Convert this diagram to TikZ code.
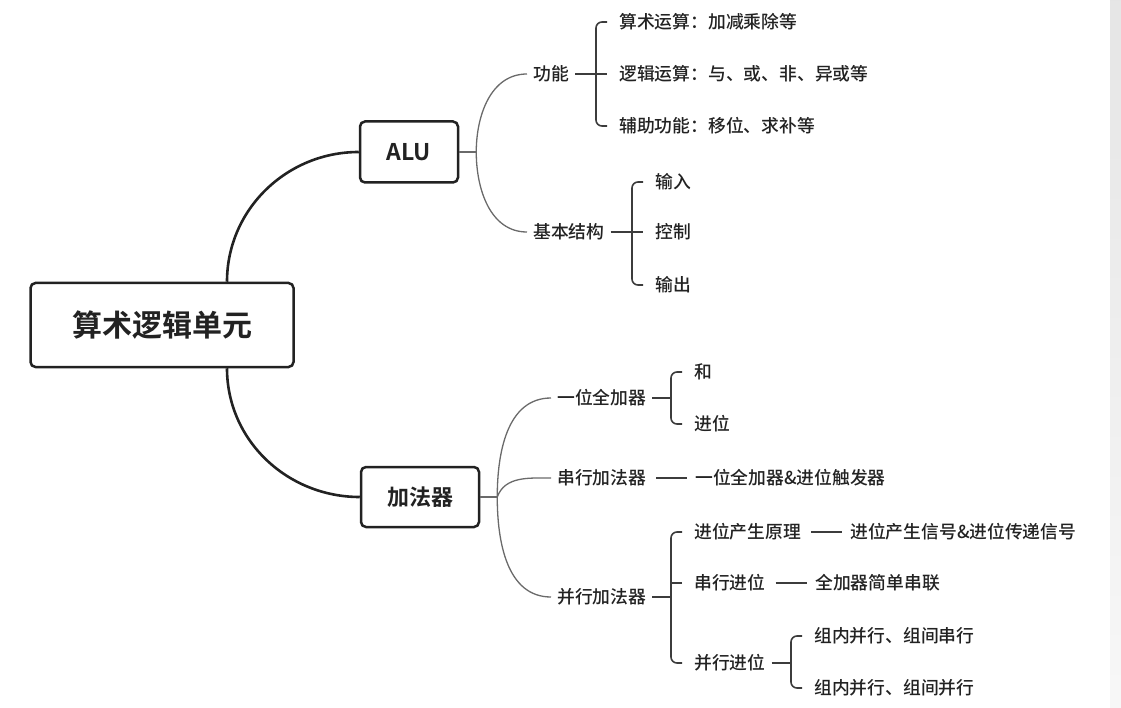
\documentclass[tikz,border=0pt]{standalone}
\usepackage{fontspec}
\setmainfont{Noto Sans CJK SC}[UprightFont=* Medium, BoldFont=* Bold]
\usetikzlibrary{positioning,calc}

\definecolor{ink}{HTML}{222222}
\definecolor{twiggray}{HTML}{6A6A6A}
\definecolor{brkgray}{HTML}{3C3C3C}

\begin{document}
\begin{tikzpicture}[x=1pt, y=-1pt,
    box/.style={draw=ink, line width=2.5pt, rounded corners=5pt, text=ink},
    lbl/.style={anchor=west, inner xsep=6pt, inner ysep=2pt, text=ink,
        font=\fontsize{17.8}{20}\selectfont},
    trunk/.style={draw=ink, line width=2.6pt},
    twig/.style={draw=twiggray, line width=1.3pt},
    brk/.style={draw=brkgray, line width=1.6pt, rounded corners=6pt}]

    %% Background
    \useasboundingbox (0,0) rectangle (1121,708);
    \shade[top color=black!10, bottom color=black!3, draw=none] (1110,0) rectangle (1121,708);

    % Main boxes
    \node[box, minimum width=263pt, minimum height=84pt,
        font=\bfseries\fontsize{30}{34}\selectfont] (root) at (162,325) {算术逻辑单元};
    \node[box, minimum width=98pt, minimum height=61pt,
        font=\bfseries\fontsize{23}{26}\selectfont] (alu) at (409,152) {ALU};
    \node[box, minimum width=118pt, minimum height=60pt,
        font=\bfseries\fontsize{22}{26}\selectfont] (adder) at (420,497) {加法器};

    \draw[trunk] ([xshift=65pt]root.north) to[out=90, in=180] (alu.west);
    \draw[trunk] ([xshift=65pt]root.south) to[out=-90, in=180] (adder.west);

    % ALU branch
    \node[lbl] (func) at (527,74) {功能};
    \node[lbl] (struct) at (527,232) {基本结构};

    \node[lbl] (func1) at (613,22) {算术运算：加减乘除等};
    \node[lbl] (func2) at (613,74) {逻辑运算：与、或、非、异或等};
    \node[lbl] (func3) at (613,126) {辅助功能：移位、求补等};

    \node[lbl] (part1) at (649,182) {输入};
    \node[lbl] (part2) at (649,232) {控制};
    \node[lbl] (part3) at (649,285) {输出};

    \coordinate (alub) at ([xshift=17pt]alu.east);
    \draw[twig] (alu.east) -- (alub);
    \draw[twig] (alub) to[out=90, in=180] (func.west);
    \draw[twig] (alub) to[out=-90, in=180] (struct.west);

    \draw[brk, shorten <=6pt, shorten >=6pt] (func1.west) -- ++(-17,0) |- (func3.west);
    \draw[brk, shorten >=6pt] (func.east) -- (func2.west);
    \draw[brk, shorten <=6pt, shorten >=6pt] (part1.west) -- ++(-17,0) |- (part3.west);
    \draw[brk, shorten >=6pt] (struct.east) -- (part2.west);

    % Adder branch
    \node[lbl] (onebit) at (551,398) {一位全加器};
    \node[lbl] (serial) at (551,478) {串行加法器};
    \node[lbl] (parallel) at (551,597) {并行加法器};

    \node[lbl] (sum) at (688,372) {和};
    \node[lbl] (carry) at (688,424) {进位};
    \node[lbl] (serialc) at (689,478) {一位全加器\&进位触发器};

    \node[lbl] (gen) at (688,532) {进位产生原理};
    \node[lbl] (ripple) at (688,583) {串行进位};
    \node[lbl] (look) at (688,663) {并行进位};

    \node[lbl] (genc) at (844,532) {进位产生信号\&进位传递信号};
    \node[lbl] (ripplec) at (809,583) {全加器简单串联};
    \node[lbl] (look1) at (808,636) {组内并行、组间串行};
    \node[lbl] (look2) at (808,688) {组内并行、组间并行};

    \coordinate (addb) at ([xshift=17pt]adder.east);
    \draw[twig] (adder.east) -- (addb);
    \draw[twig] (addb) to[out=90, in=180] (onebit.west);
    \draw[twig] (addb) to[out=70, in=180] (serial.west);
    \draw[twig] (addb) to[out=-90, in=180] (parallel.west);

    \coordinate (onebx) at ([xshift=-17pt]sum.west);
    \draw[brk, shorten <=6pt, shorten >=6pt] (sum.west) -- (onebx) |- (carry.west);
    \draw[brk] (onebit.east) -- (onebit.east -| onebx);

    \draw[brk, shorten <=4pt, shorten >=2pt] (serial.east) -- (serialc.west);

    \coordinate (parbx) at ([xshift=-17pt]gen.west);
    \draw[brk, shorten <=6pt, shorten >=6pt] (gen.west) -- (parbx) |- (look.west);
    \draw[brk, shorten <=6pt] (ripple.west) -- (ripple.west -| parbx);
    \draw[brk] (parallel.east) -- (parallel.east -| parbx);

    \draw[brk, shorten <=4pt, shorten >=2pt] (gen.east) -- (genc.west);
    \draw[brk, shorten <=4pt, shorten >=2pt] (ripple.east) -- (ripplec.west);

    \coordinate (lookbx) at ([xshift=-17pt]look1.west);
    \draw[brk, shorten <=6pt, shorten >=6pt] (look1.west) -- (lookbx) |- (look2.west);
    \draw[brk] (look.east) -- (look.east -| lookbx);

\end{tikzpicture}
\end{document}
